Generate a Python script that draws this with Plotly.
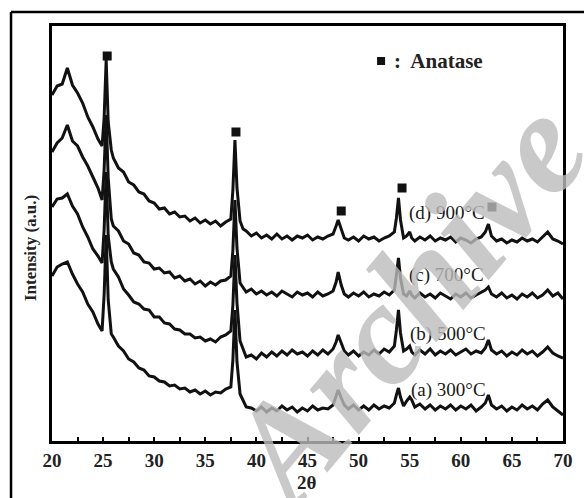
import plotly.graph_objects as go

# 2-theta grid (degrees)
two_theta = [20.0, 20.5, 21.0, 21.5, 22.0, 22.5, 23.0, 23.5, 24.0, 24.5,
             24.9, 25.1, 25.3, 25.5, 25.8, 26.0, 26.5, 27.0, 27.5, 28.0,
             28.5, 29.0, 29.5, 30.0, 30.5, 31.0, 31.5, 32.0, 32.5, 33.0,
             33.5, 34.0, 34.5, 35.0, 35.5, 36.0, 36.5, 37.0, 37.5, 37.7,
             37.9, 38.1, 38.4, 38.7, 39.0, 39.5, 40.0, 40.5, 41.0, 41.5,
             42.0, 42.5, 43.0, 43.5, 44.0, 44.5, 45.0, 45.5, 46.0, 46.5,
             47.0, 47.5, 47.8, 48.0, 48.3, 48.6, 49.0, 49.5, 50.0, 50.5,
             51.0, 51.5, 52.0, 52.5, 53.0, 53.5, 53.7, 53.9, 54.1, 54.4,
             54.7, 55.0, 55.2, 55.5, 56.0, 56.5, 57.0, 57.5, 58.0, 58.5,
             59.0, 59.5, 60.0, 60.5, 61.0, 61.5, 62.0, 62.4, 62.7, 63.0,
             63.5, 64.0, 64.5, 65.0, 65.5, 66.0, 66.5, 67.0, 67.5, 68.0,
             68.5, 69.0, 69.5, 70.0]

# Intensities (a.u., curves offset vertically as in the figure)
int_900 = [346, 355, 357, 373, 356, 348, 338, 324, 314, 302,
           295, 323, 381, 319, 291, 283, 273, 269, 259, 256,
           249, 247, 240, 238, 232, 233, 227, 229, 224, 225,
           220, 223, 218, 221, 217, 220, 215, 219, 222, 251,
           301, 253, 220, 212, 210, 205, 208, 203, 206, 202,
           207, 202, 205, 201, 205, 203, 206, 201, 204, 202,
           205, 207, 215, 221, 212, 203, 201, 204, 200, 205,
           202, 204, 200, 203, 205, 209, 223, 243, 221, 203,
           205, 209, 203, 200, 204, 201, 205, 200, 203, 201,
           204, 199, 203, 201, 198, 202, 204, 209, 217, 205,
           200, 202, 198, 201, 199, 203, 200, 202, 199, 204,
           209, 202, 200, 197]

int_700 = [289, 298, 303, 316, 300, 295, 284, 275, 264, 253,
           241, 271, 326, 263, 222, 215, 210, 200, 197, 188,
           186, 179, 178, 172, 173, 168, 169, 163, 165, 160,
           162, 157, 160, 155, 159, 156, 160, 161, 165, 191,
           241, 193, 158, 154, 149, 152, 147, 150, 146, 149,
           145, 150, 147, 144, 149, 146, 148, 144, 149, 145,
           147, 150, 159, 169, 156, 147, 144, 148, 145, 149,
           144, 147, 145, 149, 146, 151, 166, 183, 163, 147,
           145, 150, 146, 143, 148, 144, 147, 143, 148, 145,
           142, 147, 144, 148, 143, 146, 149, 151, 154, 147,
           144, 148, 143, 146, 142, 147, 144, 148, 143, 146,
           151, 145, 148, 142]

int_500 = [234, 242, 243, 247, 235, 227, 214, 204, 192, 185,
           178, 211, 269, 205, 179, 172, 164, 152, 146, 139,
           137, 132, 131, 124, 124, 118, 117, 112, 111, 107,
           107, 103, 104, 100, 102, 99, 104, 106, 110, 136,
           186, 138, 100, 92, 84, 86, 82, 88, 84, 89,
           85, 90, 86, 91, 87, 89, 85, 90, 86, 91,
           87, 92, 99, 106, 97, 90, 86, 90, 85, 89,
           86, 91, 87, 92, 89, 95, 111, 131, 108, 90,
           92, 95, 89, 86, 91, 87, 92, 86, 90, 87,
           91, 86, 89, 92, 87, 90, 88, 93, 101, 91,
           87, 90, 85, 89, 86, 91, 87, 90, 85, 89,
           94, 88, 85, 83]

int_300 = [165, 174, 177, 179, 167, 157, 149, 137, 129, 117,
           110, 146, 206, 141, 107, 104, 95, 90, 82, 79,
           73, 71, 65, 64, 60, 59, 55, 56, 52, 53,
           49, 51, 47, 50, 46, 49, 48, 52, 54, 81,
           131, 79, 47, 40, 34, 33, 30, 34, 29, 33,
           30, 35, 31, 34, 29, 33, 30, 35, 31, 33,
           32, 36, 45, 51, 43, 36, 32, 36, 31, 35,
           31, 36, 32, 35, 33, 38, 46, 53, 44, 35,
           40, 44, 41, 34, 37, 32, 36, 31, 35, 32,
           36, 31, 35, 32, 36, 30, 34, 38, 46, 36,
           32, 35, 30, 34, 31, 36, 32, 35, 31, 37,
           41, 34, 30, 26]

series = [int_300, int_500, int_700, int_900]
labels = ["(a) 300°C", "(b) 500°C", "(c) 700°C", "(d) 900°C"]
label_x = [54.95, 54.85, 54.75, 54.75]
label_y = [51, 107, 166, 228]

# Anatase reflection markers
anatase_x = [25.4, 38.0, 48.3, 54.25, 63.05]
anatase_y = [385, 309, 230, 253, 234]
key_x = [52.2]
key_y = [380]

x_ticks = [20, 25, 30, 35, 40, 45, 50, 55, 60, 65, 70]

SERIF = "Liberation Serif, Times New Roman, serif"

fig = go.Figure()
for s in series:
    fig.add_trace(go.Scatter(x=two_theta, y=s, mode="lines",
                             line=dict(color="#111111", width=3.0),
                             showlegend=False, hoverinfo="skip"))

fig.add_trace(go.Scatter(x=anatase_x, y=anatase_y, mode="markers",
                         marker=dict(symbol="square", size=9, color="#111111"),
                         showlegend=False, hoverinfo="skip"))
fig.add_trace(go.Scatter(x=key_x, y=key_y, mode="markers",
                         marker=dict(symbol="square", size=8, color="#111111"),
                         showlegend=False, hoverinfo="skip"))

annotations = []
for t, lx, ly in zip(labels, label_x, label_y):
    annotations.append(dict(x=lx, y=ly, xref="x", yref="y", text=t,
                            showarrow=False, xanchor="left", yanchor="middle",
                            font=dict(family=SERIF, size=19, color="#1a1a1a")))
annotations.append(dict(x=53.3, y=380, xref="x", yref="y", text="<b>:  Anatase</b>",
                        showarrow=False, xanchor="left", yanchor="middle",
                        font=dict(family=SERIF, size=21, color="#222222")))
annotations.append(dict(x=0.499, y=-0.101, xref="paper", yref="paper", text="<b>2θ</b>",
                        showarrow=False, xanchor="center", yanchor="middle",
                        font=dict(family=SERIF, size=19, color="#222222")))
annotations.append(dict(x=-0.043, y=0.465, xref="paper", yref="paper",
                        text="<b>Intensity (a.u.)</b>", textangle=-90,
                        showarrow=False, xanchor="center", yanchor="middle",
                        font=dict(family=SERIF, size=17, color="#222222")))
# watermark visible in the reference
annotations.append(dict(x=0.69, y=0.33, xref="paper", yref="paper",
                        text="<b><i>Archive</i></b>", textangle=-50,
                        showarrow=False, xanchor="center", yanchor="middle",
                        opacity=0.8,
                        font=dict(family=SERIF, size=145, color="#bcbcbc")))

shapes = [
    dict(type="line", xref="paper", yref="paper", x0=-0.0802, x1=-0.0802,
         y0=1.0337, y1=-0.14, line=dict(color="black", width=2.5)),
    dict(type="line", xref="paper", yref="paper", x0=-0.0802, x1=1.05,
         y0=1.0337, y1=1.0337, line=dict(color="black", width=2.5)),
]

fig.update_layout(
    width=584, height=498,
    margin=dict(l=52, r=21, t=26, b=57),
    paper_bgcolor="white", plot_bgcolor="white",
    annotations=annotations, shapes=shapes,
    xaxis=dict(range=[20, 70], tickmode="array", tickvals=x_ticks,
               ticks="inside", ticklen=4, tickwidth=2, tickcolor="black",
               minor=dict(dtick=2.5, tick0=20, ticks="inside", ticklen=4,
                          tickwidth=2, tickcolor="black"),
               showline=True, linewidth=3, linecolor="black", mirror=True,
               showgrid=False, zeroline=False,
               tickfont=dict(family=SERIF, size=19, color="#222222", weight="bold")),
    yaxis=dict(range=[0, 415], showticklabels=False, ticks="",
               showline=True, linewidth=3, linecolor="black", mirror=True,
               showgrid=False, zeroline=False),
)

fig.write_html("out.html")
